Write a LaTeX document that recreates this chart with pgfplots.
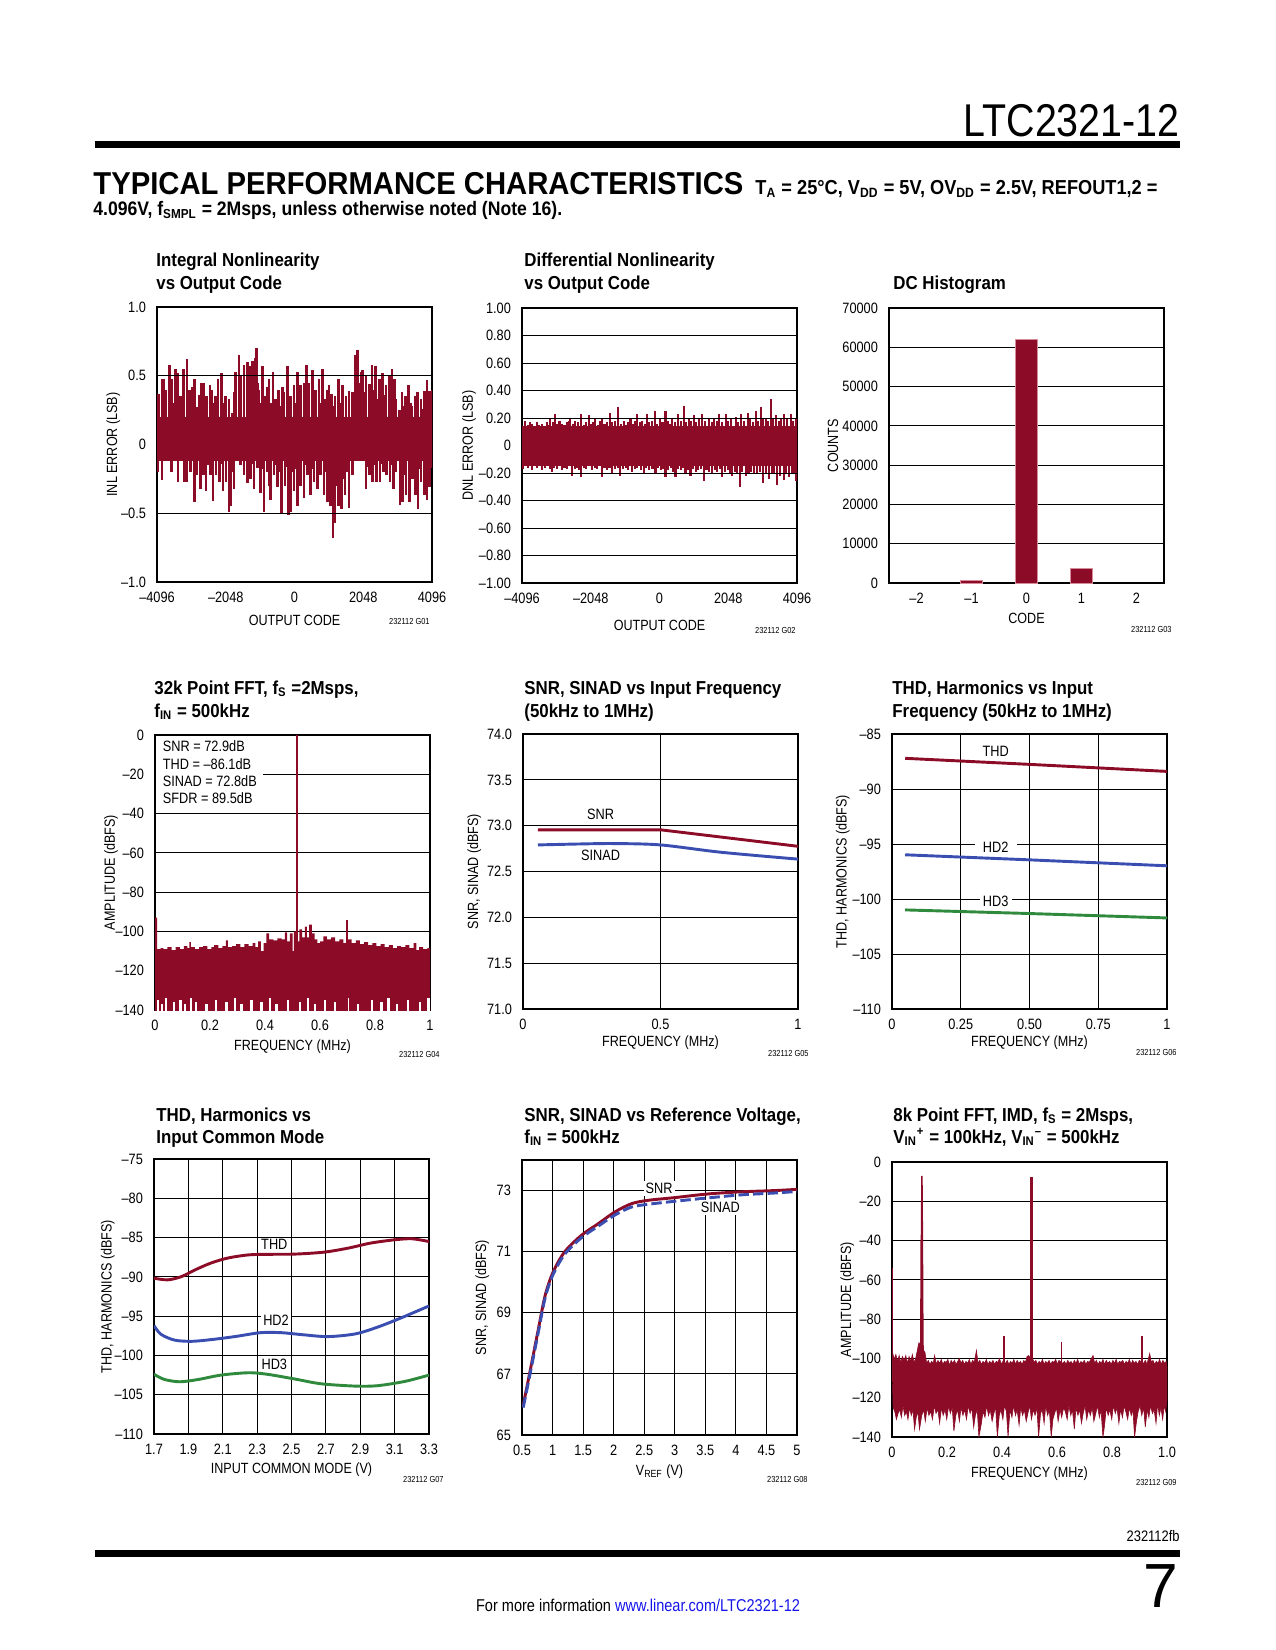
\documentclass[border=0pt]{standalone}
\usepackage{fontspec}
\usepackage{graphicx}
\usepackage{pgfplots}
\pgfplotsset{compat=1.18}
\setmainfont{Liberation Sans}
\newfontfamily\cf{Liberation Sans}[FakeStretch=0.85]
\newfontfamily\tf{Liberation Sans}[FakeStretch=0.9]
\newcommand{\tickfont}{\cf\fontsize{7.2}{8.4}\selectfont}
\newcommand{\labfont}{\cf\fontsize{7.1}{8.4}\selectfont}
\newcommand{\titlefont}{\tf\bfseries\fontsize{9}{11}\selectfont}
\newcommand{\gfont}{\cf\fontsize{4.2}{5}\selectfont}
\definecolor{dsred}{RGB}{140,12,40}
\definecolor{dsblue}{RGB}{58,78,178}
\definecolor{dsgreen}{RGB}{48,138,62}
\definecolor{baredge}{RGB}{215,140,155}
\definecolor{linkblue}{RGB}{20,20,235}
\pgfplotsset{
 ds/.style={
  scale only axis, width=132pt, height=132pt, anchor=north west,
  axis line style={line width=0.75pt},
  major tick length=0pt, minor tick num=0,
  scaled ticks=false,
  tick label style={font=\tickfont},
  xticklabel style={yshift=-1.5pt},
  yticklabel style={xshift=-1.8pt},
  grid style={line width=0.45pt, black},
  every axis x label/.style={at={(axis description cs:0.5,-0.135)}, anchor=center, font=\labfont},
  every axis y label/.style={at={(axis description cs:-0.16,0.5)}, anchor=center, rotate=90, font=\labfont},
 },
}
\tikzset{
 ttl/.style={anchor=base west, inner sep=0, font=\titlefont},
 gl/.style={anchor=east, inner sep=0, font=\gfont},
 lab/.style={font=\tickfont, inner sep=1pt},
}
\begin{document}
\begin{tikzpicture}
\begin{scope}[x=0.48pt,y=-0.48pt]
 \path[use as bounding box] (0,0) rectangle (1275,1650);
 % header
 \node[anchor=base east, inner sep=0] at (1180,137) {\resizebox{103.7pt}{15.4pt}{\fontsize{20}{22}\selectfont LTC2321-12}};
 \fill (95,141) rectangle (1180,148);
 \node[anchor=base west, inner sep=0] at (93,195) {\resizebox{312pt}{10.6pt}{\bfseries TYPICAL PERFORMANCE CHARACTERISTICS}};
 \node[anchor=base west, inner sep=0] at (755,195) {\resizebox{193pt}{!}{\tf\bfseries\fontsize{9}{11}\selectfont T\textsubscript{A} = 25°C, V\textsubscript{DD} = 5V, OV\textsubscript{DD} = 2.5V, REFOUT1,2 =}};
 \node[anchor=base west, inner sep=0] at (93,216) {\resizebox{225pt}{!}{\tf\bfseries\fontsize{9}{11}\selectfont 4.096V, f\textsubscript{SMPL} = 2Msps, unless otherwise noted (Note 16).}};
 % footer
 \node[anchor=base east, inner sep=0, font=\cf\fontsize{7.3}{8}\selectfont] at (1180,1541) {232112fb};
 \fill (95,1550) rectangle (1180,1557);
 \node[anchor=base east, inner sep=0] at (1179,1607) {\resizebox{!}{20.6pt}{\fontsize{30}{30}\selectfont 7}};
 \node[anchor=base, inner sep=0] at (638,1611) {\resizebox{155.5pt}{!}{\cf\fontsize{8.7}{10}\selectfont For more information \textcolor{linkblue}{www.linear.com/LTC2321-12}}};
 % titles
 \node[ttl] at (156,267) {Integral Nonlinearity};
 \node[ttl] at (156,290) {vs Output Code};
 \node[ttl] at (524,267) {Differential Nonlinearity};
 \node[ttl] at (524,290) {vs Output Code};
 \node[ttl] at (893,290) {DC Histogram};
 \node[ttl] at (154,694) {32k Point FFT, f\textsubscript{S} =2Msps,};
 \node[ttl] at (154,717) {f\textsubscript{IN} = 500kHz};
 \node[ttl] at (524,694) {SNR, SINAD vs Input Frequency};
 \node[ttl] at (524,717) {(50kHz to 1MHz)};
 \node[ttl] at (892,694) {THD, Harmonics vs Input};
 \node[ttl] at (892,717) {Frequency (50kHz to 1MHz)};
 \node[ttl] at (156,1121) {THD, Harmonics vs};
 \node[ttl] at (156,1143) {Input Common Mode};
 \node[ttl] at (524,1121) {SNR, SINAD vs Reference Voltage,};
 \node[ttl] at (524,1143) {f\textsubscript{IN} = 500kHz};
 \node[ttl] at (893,1121) {8k Point FFT, IMD, f\textsubscript{S} = 2Msps,};
 \node[ttl] at (893,1143) {V\textsubscript{IN}\textsuperscript{+} = 100kHz, V\textsubscript{IN}\textsuperscript{–} = 500kHz};
 % graph ids
 \node[gl] at (430,621) {232112 G01};
 \node[gl] at (796,630) {232112 G02};
 \node[gl] at (1172,629) {232112 G03};
 \node[gl] at (440,1054) {232112 G04};
 \node[gl] at (809,1053) {232112 G05};
 \node[gl] at (1177,1052) {232112 G06};
 \node[gl] at (444,1479) {232112 G07};
 \node[gl] at (808,1479) {232112 G08};
 \node[gl] at (1177,1482) {232112 G09};
\end{scope}

% ---------------- G01 INL
\begin{axis}[ds, at={(75.36pt,-147.36pt)},
 xmin=-4096, xmax=4096, ymin=-1, ymax=1,
 xtick={-4096,-2048,0,2048,4096}, xticklabels={–4096,–2048,0,2048,4096},
 ytick={-1,-0.5,0,0.5,1}, yticklabels={–1.0,–0.5,0,0.5,1.0},
 ymajorgrids,
 xlabel={OUTPUT CODE}, ylabel={INL ERROR (LSB)},
 xlabel style={at={(axis description cs:0.5,-0.138)}},
 ylabel style={at={(axis description cs:-0.159,0.5)}},
]
\addplot[fill=dsred, draw=none] coordinates {(-4096,-0.12) (4096,-0.12) (4096,0.2) (-4096,0.2)};
\addplot[ycomb, draw=dsred, line width=1.25pt, mark=none] coordinates {
(-4090,0.23) (-4046,0.37) (-3947,0.48) (-3897,0.48) (-3827,0.40) (-3728,0.58) (-3668,0.48) (-3609,0.30)
(-3549,0.55) (-3469,0.52) (-3389,0.35) (-3300,0.55) (-3200,0.62) (-3131,0.40) (-3051,0.42) (-2971,0.48)
(-2892,0.27) (-2832,0.36) (-2772,0.45) (-2702,0.45) (-2623,0.35) (-2523,0.43) (-2454,0.40) (-2400,0.30) (-2354,0.35)
(-2274,0.48) (-2175,0.52) (-2115,0.30) (-2055,0.35) (-1956,0.33) (-1856,0.23) (-1800,0.38) (-1757,0.53) (-1657,0.65)
(-1588,0.50) (-1508,0.58) (-1408,0.60) (-1339,0.57) (-1259,0.61) (-1180,0.63) (-1140,0.70) (-1100,0.45) (-1060,0.40)
(-1010,0.30) (-961,0.57) (-861,0.35) (-812,0.42) (-762,0.48) (-700,0.30) (-642,0.53) (-562,0.33) (-483,0.40) (-413,0.28)
(-360,0.42) (-314,0.38) (-214,0.57) (-160,0.30) (-114,0.35) (-15,0.43) (35,0.30) (85,0.53) (134,0.30) (184,0.43) (284,0.45)
(354,0.58) (393,0.35) (433,0.45) (533,0.54) (582,0.32) (632,0.40) (732,0.48) (782,0.30) (831,0.55) (931,0.33) (980,0.40)
(1030,0.43) (1110,0.37) (1160,0.28) (1209,0.35) (1309,0.48) (1368,0.30) (1428,0.43) (1528,0.35) (1627,0.39) (1727,0.38)
(1767,0.30) (1807,0.65) (1876,0.69) (1926,0.45) (1976,0.53) (2026,0.54) (2075,0.38) (2125,0.50) (2225,0.44) (2265,0.36)
(2305,0.58) (2354,0.40) (2404,0.57) (2464,0.33) (2523,0.48) (2623,0.52) (2672,0.36) (2722,0.43) (2822,0.50) (2902,0.55)
(2971,0.48) (3021,0.33) (3121,0.25) (3200,0.38) (3250,0.28) (3300,0.35) (3399,0.43) (3450,0.30) (3499,0.28) (3598,0.35)
(3668,0.38) (3768,0.33) (3817,0.26) (3867,0.39) (3947,0.47) (4017,0.39) (4090,0.40)};
\addplot[ycomb, draw=dsred, line width=1.25pt, mark=none] coordinates {
(-4090,-0.20) (-4046,-0.05) (-3947,-0.26) (-3847,-0.12) (-3748,-0.07) (-3668,-0.20) (-3569,-0.07) (-3469,-0.27)
(-3370,-0.02) (-3270,-0.27) (-3200,-0.27) (-3101,-0.20) (-3036,-0.12) (-2971,-0.42) (-2902,-0.22) (-2802,-0.32)
(-2752,-0.18) (-2702,-0.22) (-2633,-0.34) (-2568,-0.15) (-2503,-0.22) (-2424,-0.41) (-2334,-0.22) (-2235,-0.27)
(-2185,-0.14) (-2135,-0.34) (-2036,-0.27) (-1956,-0.49) (-1906,-0.45) (-1857,-0.20) (-1807,-0.32) (-1707,-0.05)
(-1608,-0.15) (-1508,-0.22) (-1458,-0.12) (-1408,-0.28) (-1309,-0.25) (-1259,-0.14) (-1209,-0.32) (-1110,-0.17)
(-1010,-0.35) (-960,-0.18) (-911,-0.49) (-811,-0.20) (-761,-0.30) (-712,-0.40) (-612,-0.22) (-562,-0.15) (-513,-0.31)
(-448,-0.20) (-383,-0.50) (-284,-0.30) (-234,-0.16) (-184,-0.51) (-114,-0.49) (-65,-0.20) (-15,-0.34) (35,-0.18)
(85,-0.45) (134,-0.22) (184,-0.30) (284,-0.39) (333,-0.15) (383,-0.22) (483,-0.37) (533,-0.18) (582,-0.27) (682,-0.32)
(731,-0.16) (781,-0.22) (881,-0.37) (930,-0.20) (980,-0.42) (1030,-0.24) (1080,-0.45) (1150,-0.68) (1209,-0.57)
(1259,-0.30) (1309,-0.45) (1408,-0.47) (1458,-0.25) (1508,-0.37) (1567,-0.20) (1627,-0.46) (1727,-0.22) (1827,-0.07)
(1906,-0.10) (2026,-0.10) (2125,-0.32) (2175,-0.16) (2225,-0.22) (2324,-0.27) (2384,-0.15) (2444,-0.27) (2543,-0.27)
(2593,-0.14) (2643,-0.20) (2742,-0.22) (2842,-0.27) (2892,-0.15) (2941,-0.32) (3021,-0.20) (3081,-0.12) (3141,-0.44)
(3220,-0.42) (3270,-0.22) (3320,-0.37) (3419,-0.42) (3469,-0.20) (3519,-0.25) (3598,-0.37) (3678,-0.47) (3723,-0.18)
(3768,-0.27) (3867,-0.37) (3907,-0.20) (3947,-0.40) (4017,-0.31) (4090,-0.17)};
\draw[line width=0.45pt] (axis cs:-4096,0.5) -- (axis cs:4096,0.5);
\draw[line width=0.45pt] (axis cs:-4096,-0.5) -- (axis cs:4096,-0.5);
\end{axis}

% ---------------- G02 DNL
\begin{axis}[ds, at={(250.56pt,-147.84pt)},
 xmin=-4096, xmax=4096, ymin=-1, ymax=1,
 xtick={-4096,-2048,0,2048,4096}, xticklabels={–4096,–2048,0,2048,4096},
 ytick={-1,-0.8,-0.6,-0.4,-0.2,0,0.2,0.4,0.6,0.8,1},
 yticklabels={–1.00,–0.80,–0.60,–0.40,–0.20,0,0.20,0.40,0.60,0.80,1.00},
 ymajorgrids,
 xlabel={OUTPUT CODE}, ylabel={DNL ERROR (LSB)},
 xlabel style={at={(axis description cs:0.5,-0.153)}},
 ylabel style={at={(axis description cs:-0.193,0.5)}},
]
\addplot[fill=dsred, draw=none] coordinates {(-4096,-0.15) (4096,-0.15) (4096,0.14) (-4096,0.14)};
\addplot[ycomb, draw=dsred, line width=1pt, mark=none] coordinates {
(-4076,0.13) (-3997,0.18) (-3920,0.15) (-3850,0.17) (-3798,0.16) (-3720,0.14) (-3650,0.17) (-3580,0.15) (-3500,0.16)
(-3430,0.14) (-3360,0.17) (-3300,0.15) (-3251,0.20) (-3180,0.17) (-3122,0.23) (-3050,0.16) (-2980,0.18) (-2903,0.16)
(-2830,0.15) (-2760,0.17) (-2700,0.18) (-2655,0.20) (-2580,0.16) (-2506,0.18) (-2430,0.17) (-2327,0.23) (-2250,0.15)
(-2180,0.17) (-2108,0.22) (-2040,0.16) (-1970,0.17) (-1909,0.19) (-1840,0.15) (-1770,0.18) (-1710,0.20) (-1640,0.16)
(-1560,0.17) (-1482,0.24) (-1410,0.17) (-1330,0.18) (-1243,0.28) (-1160,0.16) (-1064,0.18) (-990,0.15) (-930,0.17)
(-865,0.20) (-790,0.16) (-730,0.18) (-667,0.23) (-590,0.17) (-517,0.18) (-440,0.16) (-369,0.23) (-300,0.17) (-220,0.18)
(-140,0.25) (-70,0.16) (9,0.19) (90,0.17) (178,0.25) (260,0.18) (320,0.16) (377,0.20) (460,0.17) (546,0.23) (640,0.18)
(735,0.29) (800,0.17) (874,0.20) (950,0.18) (1023,0.22) (1100,0.17) (1180,0.19) (1272,0.23) (1350,0.18) (1470,0.20)
(1550,0.17) (1620,0.19) (1700,0.18) (1769,0.23) (1850,0.17) (1967,0.23) (2050,0.18) (2130,0.19) (2266,0.21) (2350,0.17)
(2435,0.23) (2530,0.18) (2624,0.24) (2700,0.19) (2780,0.17) (2862,0.25) (2940,0.18) (3011,0.28) (3090,0.19) (3160,0.20)
(3240,0.18) (3309,0.34) (3390,0.19) (3478,0.22) (3560,0.18) (3630,0.20) (3707,0.23) (3800,0.19) (3906,0.23) (3980,0.18)
(4055,0.19) (4090,0.19)};
\addplot[ycomb, draw=dsred, line width=1pt, mark=none] coordinates {
(-4076,-0.17) (-4000,-0.15) (-3920,-0.16) (-3850,-0.14) (-3798,-0.18) (-3720,-0.15) (-3650,-0.16) (-3580,-0.15)
(-3500,-0.18) (-3420,-0.16) (-3340,-0.15) (-3270,-0.17) (-3201,-0.19) (-3130,-0.16) (-3050,-0.17) (-2980,-0.15)
(-2903,-0.18) (-2830,-0.16) (-2750,-0.17) (-2680,-0.15) (-2605,-0.22) (-2530,-0.17) (-2460,-0.16) (-2390,-0.18)
(-2327,-0.23) (-2250,-0.16) (-2180,-0.17) (-2100,-0.15) (-2009,-0.18) (-1930,-0.16) (-1850,-0.17) (-1780,-0.15)
(-1710,-0.23) (-1640,-0.16) (-1560,-0.18) (-1490,-0.16) (-1412,-0.20) (-1330,-0.17) (-1250,-0.16) (-1164,-0.22)
(-1090,-0.17) (-1010,-0.16) (-930,-0.18) (-860,-0.15) (-816,-0.19) (-740,-0.17) (-660,-0.16) (-560,-0.18) (-468,-0.20)
(-390,-0.16) (-300,-0.18) (-210,-0.17) (-120,-0.20) (-40,-0.16) (40,-0.18) (110,-0.17) (178,-0.23) (260,-0.18)
(340,-0.16) (410,-0.19) (476,-0.23) (560,-0.17) (640,-0.18) (700,-0.16) (775,-0.20) (850,-0.18) (924,-0.22) (1000,-0.17)
(1080,-0.19) (1160,-0.18) (1240,-0.17) (1321,-0.26) (1400,-0.18) (1480,-0.19) (1570,-0.20) (1650,-0.18) (1720,-0.19)
(1800,-0.17) (1868,-0.23) (1950,-0.19) (2030,-0.18) (2100,-0.20) (2166,-0.22) (2250,-0.19) (2320,-0.20) (2385,-0.30)
(2470,-0.19) (2564,-0.22) (2650,-0.20) (2730,-0.19) (2812,-0.20) (2900,-0.21) (2990,-0.19) (3081,-0.27) (3170,-0.20)
(3260,-0.24) (3340,-0.21) (3420,-0.20) (3508,-0.29) (3600,-0.22) (3707,-0.25) (3780,-0.21) (3856,-0.23) (3940,-0.21)
(4000,-0.20) (4055,-0.26) (4090,-0.24)};
\draw[line width=0.45pt] (axis cs:-4096,0.2) -- (axis cs:4096,0.2);
\draw[line width=0.45pt] (axis cs:-4096,-0.2) -- (axis cs:4096,-0.2);
\end{axis}

% ---------------- G03 DC histogram
\begin{axis}[ds, at={(426.72pt,-147.84pt)},
 xmin=-2.5, xmax=2.5, ymin=0, ymax=70000,
 xtick={-2,-1,0,1,2}, xticklabels={–2,–1,0,1,2},
 ytick={0,10000,20000,30000,40000,50000,60000,70000},
 yticklabels={0,10000,20000,30000,40000,50000,60000,70000},
 ymajorgrids,
 xlabel={CODE}, ylabel={COUNTS},
 xlabel style={at={(axis description cs:0.5,-0.127)}},
 ylabel style={at={(axis description cs:-0.204,0.5)}},
]
\addplot[ybar, bar width=0.4, fill=dsred, draw=baredge, line width=0.35pt] coordinates {(-1,600) (0,62000) (1,3750)};
\end{axis}

% ---------------- G04 FFT 32k
\begin{axis}[ds, at={(74.4pt,-352.8pt)},
 xmin=0, xmax=1, ymin=-140, ymax=0,
 xtick={0,0.2,0.4,0.6,0.8,1}, xticklabels={0,0.2,0.4,0.6,0.8,1},
 ytick={-140,-120,-100,-80,-60,-40,-20,0},
 yticklabels={–140,–120,–100,–80,–60,–40,–20,0},
 ymajorgrids, unbounded coords=jump,
 xlabel={FREQUENCY (MHz)}, ylabel={AMPLITUDE (dBFS)},
 xlabel style={at={(axis description cs:0.5,-0.133)}},
 ylabel style={at={(axis description cs:-0.160,0.5)}},
]
\addplot[const plot, fill=dsred, draw=none] coordinates {
(0,-150) (0,-93) (0.008,-109) (0.020,-108.5) (0.030,-109) (0.045,-108) (0.060,-109.5) (0.075,-108) (0.090,-109)
(0.105,-107.5) (0.118,-108.5) (0.125,-105.5) (0.130,-108) (0.145,-109) (0.160,-108) (0.175,-107.5) (0.190,-109)
(0.205,-108) (0.215,-107) (0.230,-108.5) (0.245,-107.5) (0.258,-104.5) (0.265,-108) (0.280,-107.5) (0.295,-106.5)
(0.310,-108) (0.325,-106.5) (0.340,-107.5) (0.355,-106) (0.365,-108) (0.375,-105) (0.385,-110) (0.395,-106)
(0.405,-101) (0.415,-104) (0.430,-104.5) (0.445,-103.5) (0.460,-104) (0.472,-100.5) (0.480,-105) (0.490,-101)
(0.500,-110) (0.505,-100) (0.512,-105) (0.525,-99) (0.535,-103) (0.545,-97.5) (0.552,-103) (0.560,-96.5)
(0.570,-101) (0.580,-104) (0.590,-106) (0.600,-105) (0.612,-102.5) (0.625,-104) (0.640,-103) (0.655,-105)
(0.670,-104) (0.685,-106) (0.700,-104) (0.715,-106) (0.730,-104.5) (0.745,-106.5) (0.760,-105.5) (0.775,-107)
(0.790,-106) (0.805,-107.5) (0.820,-106.5) (0.835,-108) (0.850,-107) (0.865,-108.5) (0.880,-107.5) (0.895,-108)
(0.910,-107) (0.925,-108.5) (0.940,-106) (0.950,-109.5) (0.960,-108) (0.975,-109) (0.990,-108.5) (1.000,-109) (1,-150)};
\addplot[white, line width=1.1pt] coordinates {
(0.012,-141) (0.012,-135) (0.012,nan) (0.025,-141) (0.025,-137) (0.025,nan) (0.041,-141) (0.041,-134) (0.041,nan)
(0.069,-141) (0.069,-136) (0.069,nan) (0.093,-141) (0.093,-135) (0.093,nan) (0.108,-141) (0.108,-137) (0.108,nan)
(0.132,-141) (0.132,-134) (0.132,nan) (0.150,-141) (0.150,-136) (0.150,nan) (0.187,-141) (0.187,-137) (0.187,nan)
(0.223,-141) (0.223,-135) (0.223,nan) (0.260,-141) (0.260,-136) (0.260,nan) (0.290,-141) (0.290,-134) (0.290,nan)
(0.314,-141) (0.314,-137) (0.314,nan) (0.351,-141) (0.351,-135) (0.351,nan) (0.387,-141) (0.387,-136) (0.387,nan)
(0.417,-141) (0.417,-134) (0.417,nan) (0.442,-141) (0.442,-137) (0.442,nan) (0.484,-141) (0.484,-135) (0.484,nan)
(0.528,-141) (0.528,-136) (0.528,nan) (0.557,-141) (0.557,-134) (0.557,nan) (0.581,-141) (0.581,-137) (0.581,nan)
(0.618,-141) (0.618,-135) (0.618,nan) (0.654,-141) (0.654,-136) (0.654,nan) (0.703,-141) (0.703,-134) (0.703,nan)
(0.739,-141) (0.739,-137) (0.739,nan) (0.788,-141) (0.788,-135) (0.788,nan) (0.824,-141) (0.824,-136) (0.824,nan)
(0.849,-141) (0.849,-134) (0.849,nan) (0.879,-141) (0.879,-137) (0.879,nan) (0.921,-141) (0.921,-135) (0.921,nan)
(0.964,-141) (0.964,-136) (0.964,nan) (0.994,-141) (0.994,-134)};
\addplot[dsred, line width=1.1pt] coordinates {(0.517,-141) (0.517,0)};
\addplot[dsred, line width=0.9pt] coordinates {(0.698,-141) (0.698,-94)};
\node[fill=white, anchor=north west, align=left, inner xsep=3.2pt, inner ysep=2.2pt, xshift=0.4pt, yshift=-0.4pt,
 font=\cf\fontsize{7.2}{8.35}\selectfont] at (rel axis cs:0,1) {SNR = 72.9dB\\THD = –86.1dB\\SINAD = 72.8dB\\SFDR = 89.5dB};
\end{axis}

% ---------------- G05 SNR SINAD vs fin
\begin{axis}[ds, at={(251.04pt,-352.32pt)},
 xmin=0, xmax=1, ymin=71, ymax=74,
 xtick={0,0.5,1}, xticklabels={0,0.5,1},
 ytick={71,71.5,72,72.5,73,73.5,74}, yticklabels={71.0,71.5,72.0,72.5,73.0,73.5,74.0},
 grid=major,
 xlabel={FREQUENCY (MHz)}, ylabel={SNR, SINAD (dBFS)},
 xlabel style={at={(axis description cs:0.5,-0.123)}},
 ylabel style={at={(axis description cs:-0.177,0.5)}},
]
\addplot[dsred, line width=1.4pt] coordinates {(0.054,72.955) (0.5,72.955) (1.0,72.775)};
\addplot[dsblue, line width=1.4pt, smooth] coordinates {(0.054,72.79) (0.2,72.80) (0.33,72.805) (0.5,72.79) (0.72,72.71) (1.0,72.635)};
\node[lab] at (axis cs:0.282,73.12) {SNR};
\node[lab] at (axis cs:0.282,72.675) {SINAD};
\end{axis}

% ---------------- G06 THD vs fin
\begin{axis}[ds, at={(428.16pt,-352.32pt)},
 xmin=0, xmax=1, ymin=-110, ymax=-85,
 xtick={0,0.25,0.5,0.75,1}, xticklabels={0,0.25,0.50,0.75,1},
 ytick={-110,-105,-100,-95,-90,-85}, yticklabels={–110,–105,–100,–95,–90,–85},
 grid=major,
 xlabel={FREQUENCY (MHz)}, ylabel={THD, HARMONICS (dBFS)},
 xlabel style={at={(axis description cs:0.5,-0.123)}},
 ylabel style={at={(axis description cs:-0.179,0.5)}},
]
\addplot[dsred, line width=1.4pt] coordinates {(0.048,-87.21) (0.5,-87.76) (1.0,-88.40)};
\addplot[dsblue, line width=1.4pt] coordinates {(0.048,-95.98) (0.5,-96.44) (1.0,-96.98)};
\addplot[dsgreen, line width=1.4pt] coordinates {(0.048,-100.99) (0.5,-101.32) (1.0,-101.72)};
\node[lab] at (axis cs:0.377,-86.58) {THD};
\node[lab, fill=white, inner xsep=4pt] at (axis cs:0.377,-95.29) {HD2};
\node[lab, fill=white, inner xsep=1.5pt] at (axis cs:0.377,-100.23) {HD3};
\end{axis}

% ---------------- G07 THD vs common mode
\begin{axis}[ds, at={(73.92pt,-556.32pt)},
 xmin=1.7, xmax=3.3, ymin=-110, ymax=-75,
 xtick={1.7,1.9,2.1,2.3,2.5,2.7,2.9,3.1,3.3}, xticklabels={1.7,1.9,2.1,2.3,2.5,2.7,2.9,3.1,3.3},
 ytick={-110,-105,-100,-95,-90,-85,-80,-75}, yticklabels={–110,–105,–100,–95,–90,–85,–80,–75},
 grid=major,
 xlabel={INPUT COMMON MODE (V)}, ylabel={THD, HARMONICS (dBFS)},
 xlabel style={at={(axis description cs:0.5,-0.131)}},
 ylabel style={at={(axis description cs:-0.168,0.5)}},
]
\addplot[dsred, line width=1.4pt, smooth] coordinates {(1.70,-90.17) (1.78,-90.38) (1.86,-89.96) (1.94,-89.1) (2.03,-88.25) (2.13,-87.6) (2.25,-87.2) (2.36,-87.13) (2.52,-87.1) (2.69,-86.85) (2.83,-86.34) (2.96,-85.7) (3.10,-85.28) (3.20,-85.15) (3.30,-85.5)};
\addplot[dsblue, line width=1.4pt, smooth] coordinates {(1.70,-96.2) (1.74,-97.3) (1.82,-98.05) (1.92,-98.2) (2.03,-97.99) (2.17,-97.6) (2.32,-97.1) (2.44,-97.1) (2.56,-97.35) (2.71,-97.6) (2.87,-97.26) (3.00,-96.4) (3.14,-95.2) (3.30,-93.7)};
\addplot[dsgreen, line width=1.4pt, smooth] coordinates {(1.70,-102.4) (1.76,-103.05) (1.85,-103.35) (1.96,-103.05) (2.09,-102.5) (2.25,-102.2) (2.36,-102.4) (2.52,-103.0) (2.67,-103.6) (2.87,-103.9) (3.00,-103.85) (3.16,-103.3) (3.30,-102.5)};
\node[lab, fill=white] at (axis cs:2.40,-85.92) {THD};
\node[lab, fill=white] at (axis cs:2.41,-95.48) {HD2};
\node[lab, fill=white] at (axis cs:2.40,-101.08) {HD3};
\end{axis}

% ---------------- G08 SNR SINAD vs VREF
\begin{axis}[ds, at={(250.56pt,-556.8pt)},
 xmin=0.5, xmax=5, ymin=65, ymax=74,
 xtick={0.5,1,1.5,2,2.5,3,3.5,4,4.5,5}, xticklabels={0.5,1,1.5,2,2.5,3,3.5,4,4.5,5},
 ytick={65,67,69,71,73}, yticklabels={65,67,69,71,73},
 grid=major,
 xlabel={V\textsubscript{REF} (V)}, ylabel={SNR, SINAD (dBFS)},
 xlabel style={at={(axis description cs:0.5,-0.133)}},
 ylabel style={at={(axis description cs:-0.144,0.5)}},
]
\addplot[dsred, line width=1.4pt, smooth] coordinates {(0.52,65.98) (0.63,67.07) (0.77,68.49) (0.88,69.58) (1.01,70.34) (1.20,71.0) (1.475,71.54) (1.75,71.92) (2.02,72.30) (2.29,72.57) (2.56,72.68) (3.0,72.77) (3.545,72.89) (4.09,72.96) (4.63,73.0) (5.0,73.04)};
\addplot[dsblue, line width=1.4pt, smooth, dash pattern=on 5pt off 2pt] coordinates {(0.52,65.9) (0.63,66.98) (0.77,68.4) (0.88,69.5) (1.01,70.26) (1.2,70.92) (1.475,71.46) (1.75,71.84) (2.02,72.2) (2.29,72.46) (2.56,72.55) (3.0,72.65) (3.545,72.76) (4.09,72.86) (4.63,72.92) (5.0,72.97)};
\node[lab, fill=white] at (axis cs:2.744,73.07) {SNR};
\node[lab, fill=white] at (axis cs:3.746,72.44) {SINAD};
\end{axis}

% ---------------- G09 IMD FFT
\begin{axis}[ds, at={(428.16pt,-557.76pt)},
 xmin=0, xmax=1, ymin=-140, ymax=0,
 xtick={0,0.2,0.4,0.6,0.8,1}, xticklabels={0,0.2,0.4,0.6,0.8,1.0},
 ytick={-140,-120,-100,-80,-60,-40,-20,0},
 yticklabels={–140,–120,–100,–80,–60,–40,–20,0},
 ymajorgrids,
 xlabel={FREQUENCY (MHz)}, ylabel={AMPLITUDE (dBFS)},
 xlabel style={at={(axis description cs:0.5,-0.135)}},
 ylabel style={at={(axis description cs:-0.163,0.5)}},
]
\addplot[fill=dsred, draw=dsred, line width=0.3pt] coordinates {
(0.002,-97) (0.008,-100.5) (0.014,-98) (0.020,-101.5) (0.026,-98.5) (0.032,-102) (0.038,-99) (0.044,-101) (0.050,-98.5)
(0.056,-102.5) (0.062,-99) (0.068,-101.5) (0.074,-98) (0.080,-102) (0.086,-100) (0.092,-96) (0.096,-93) (0.098,-92)
(0.120,-97) (0.126,-102.5) (0.132,-101) (0.138,-103) (0.144,-101.5) (0.150,-102.5) (0.155,-98.5) (0.161,-103) (0.167,-101)
(0.173,-102.5) (0.179,-100.5) (0.185,-103) (0.191,-101.5) (0.197,-102) (0.203,-100.5) (0.209,-103.5) (0.215,-101)
(0.221,-102.5) (0.227,-101) (0.233,-103) (0.239,-101.5) (0.245,-100) (0.251,-102.5) (0.257,-101) (0.263,-103)
(0.269,-101.5) (0.275,-102.5) (0.281,-100.5) (0.287,-103) (0.293,-101) (0.299,-102) (0.307,-96) (0.313,-102.5)
(0.319,-101) (0.325,-103) (0.331,-101.5) (0.337,-102.5) (0.343,-100.5) (0.349,-103) (0.355,-101.5) (0.361,-102.5)
(0.367,-101) (0.373,-103) (0.379,-101.5) (0.385,-102) (0.391,-100) (0.397,-103) (0.403,-101.5) (0.413,-102.5)
(0.419,-101) (0.425,-103) (0.431,-101.5) (0.437,-102.5) (0.443,-100.5) (0.449,-103) (0.455,-101) (0.461,-102.5)
(0.467,-101.5) (0.473,-103) (0.479,-101) (0.485,-102) (0.491,-99) (0.497,-98.5) (0.503,-100) (0.511,-100) (0.517,-102)
(0.523,-101) (0.529,-103) (0.535,-101.5) (0.541,-102.5) (0.547,-100.5) (0.553,-103) (0.559,-101.5) (0.565,-102.5)
(0.571,-101) (0.577,-103) (0.583,-101.5) (0.589,-102) (0.595,-100.5) (0.601,-103) (0.607,-101) (0.621,-102.5)
(0.627,-101.5) (0.633,-103) (0.639,-101) (0.645,-102.5) (0.651,-101.5) (0.657,-103) (0.663,-101) (0.669,-102.5)
(0.675,-100.5) (0.681,-103) (0.687,-101.5) (0.693,-102.5) (0.699,-101) (0.705,-103) (0.711,-101.5) (0.717,-102)
(0.723,-100.5) (0.731,-98.5) (0.737,-102.5) (0.743,-101) (0.749,-103) (0.755,-101.5) (0.761,-102.5) (0.767,-100.5)
(0.773,-103) (0.779,-101) (0.785,-102.5) (0.791,-101.5) (0.797,-103) (0.803,-101) (0.809,-102.5) (0.815,-100.5)
(0.821,-103) (0.827,-101.5) (0.833,-102) (0.839,-101) (0.845,-103) (0.851,-101.5) (0.857,-102.5) (0.863,-100.5)
(0.869,-103) (0.875,-101) (0.881,-102.5) (0.887,-101.5) (0.893,-103) (0.899,-101) (0.915,-102.5) (0.921,-101)
(0.927,-103) (0.937,-97.5) (0.943,-102) (0.949,-101) (0.955,-103) (0.961,-101.5) (0.967,-102.5) (0.973,-100.5)
(0.979,-103) (0.985,-101) (0.991,-102.5) (0.997,-101.5) (1.000,-104)
(1.000,-121) (0.995,-127) (0.990,-124) (0.984,-131) (0.978,-125) (0.972,-129) (0.966,-123) (0.960,-133) (0.953,-126)
(0.947,-128) (0.940,-124) (0.934,-130) (0.928,-126) (0.921,-135) (0.915,-125) (0.908,-129) (0.902,-124) (0.895,-127)
(0.889,-132) (0.882,-140) (0.876,-126) (0.870,-129) (0.863,-125) (0.857,-131) (0.850,-127) (0.844,-124) (0.838,-130)
(0.831,-126) (0.825,-133) (0.818,-125) (0.812,-128) (0.805,-124) (0.799,-131) (0.792,-126) (0.786,-129) (0.779,-125)
(0.773,-134) (0.767,-140) (0.760,-126) (0.754,-130) (0.747,-124) (0.741,-128) (0.734,-132) (0.728,-125) (0.721,-129)
(0.715,-126) (0.708,-131) (0.702,-124) (0.695,-128) (0.689,-133) (0.682,-126) (0.676,-129) (0.669,-125) (0.663,-136)
(0.656,-126) (0.650,-129) (0.643,-124) (0.637,-131) (0.630,-127) (0.624,-125) (0.617,-130) (0.611,-126) (0.604,-132)
(0.598,-125) (0.591,-128) (0.585,-131) (0.579,-140) (0.572,-126) (0.566,-129) (0.559,-124) (0.553,-133) (0.546,-126)
(0.540,-128) (0.533,-140) (0.527,-125) (0.520,-129) (0.514,-126) (0.507,-131) (0.501,-124) (0.494,-128) (0.488,-132)
(0.481,-126) (0.475,-129) (0.468,-125) (0.462,-134) (0.455,-126) (0.449,-129) (0.442,-124) (0.436,-130) (0.429,-126)
(0.422,-140) (0.416,-127) (0.409,-124) (0.403,-131) (0.396,-126) (0.390,-129) (0.383,-140) (0.377,-125) (0.370,-128)
(0.364,-132) (0.357,-126) (0.351,-129) (0.344,-124) (0.338,-130) (0.331,-127) (0.325,-133) (0.316,-140) (0.310,-126)
(0.303,-129) (0.297,-135) (0.290,-125) (0.284,-128) (0.277,-124) (0.271,-131) (0.264,-126) (0.258,-129) (0.251,-125)
(0.245,-132) (0.238,-126) (0.232,-129) (0.225,-137) (0.219,-125) (0.212,-128) (0.206,-124) (0.199,-131) (0.193,-126)
(0.186,-129) (0.180,-125) (0.173,-133) (0.167,-126) (0.160,-128) (0.154,-124) (0.147,-131) (0.141,-127) (0.134,-129)
(0.128,-125) (0.121,-132) (0.115,-126) (0.108,-129) (0.100,-136) (0.094,-127) (0.088,-130) (0.082,-136) (0.076,-126)
(0.070,-129) (0.064,-125) (0.058,-131) (0.052,-127) (0.046,-129) (0.040,-124) (0.034,-130) (0.028,-126) (0.022,-128)
(0.016,-131) (0.010,-127) (0.004,-125) (0.002,-113)};
\addplot[fill=dsred, draw=none] coordinates {(0.099,-100) (0.100,-93) (0.102,-92) (0.1035,-40) (0.1045,-37) (0.106,-7) (0.1115,-7) (0.113,-37) (0.115,-92) (0.117,-100)};
\addplot[dsred, line width=1.1pt] coordinates {(0.507,-102) (0.507,-7.6)};
\addplot[dsred, line width=0.6pt] coordinates {(0.0025,-112) (0.0025,-54)};
\addplot[dsred, line width=0.8pt, unbounded coords=jump] coordinates {(0.407,-102) (0.407,-88.5) (0.407,nan) (0.616,-102) (0.616,-91.8) (0.616,nan) (0.910,-102) (0.910,-88.5)};
\end{axis}
\end{tikzpicture}
\end{document}
